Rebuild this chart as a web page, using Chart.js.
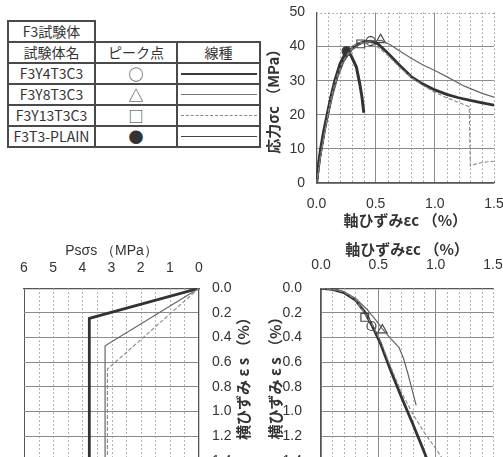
<!DOCTYPE html>
<html>
<head>
<meta charset="utf-8">
<script src="https://cdn.jsdelivr.net/npm/chart.js@4"></script>
<style>
  body { margin: 0; width: 503px; height: 457px; overflow: hidden; background: #fff; position: relative;
         font-family: 'Noto Sans CJK JP', sans-serif; color: #333; }
  canvas { position: absolute; }
  #tbl { position: absolute; left: 7px; top: 20px; border-collapse: collapse; table-layout: fixed; font-size: 14px; }
  #tbl td { border: 2px solid #4a4a4a; height: 19px; padding: 0; text-align: center; line-height: 17px; white-space: nowrap; }
  #tbl td.none { border: none; }
  .ls { width: 76px; margin: 0 auto; height: 0; }
  #yl { position: absolute; left: 163px; top: 365px; width: 160px; text-align: center; transform: rotate(-90deg);
        font-weight: bold; font-size: 15px; line-height: 20px; z-index: 2; }
</style>
</head>
<body>
<table id="tbl">
  <colgroup><col style="width:87px"><col style="width:82px"><col style="width:83px"></colgroup>
  <tbody id="tb"></tbody>
</table>
<canvas id="c1" width="241" height="232" style="left:262px;top:0"></canvas>
<canvas id="c2" width="240" height="240" style="left:0;top:240px"></canvas>
<canvas id="c3" width="241" height="240" style="left:262px;top:240px"></canvas>
<div id="yl">横ひずみ ε s （%）</div>
<script>
// series
const seriesNames = ['F3Y4T3C3', 'F3Y8T3C3', 'F3Y13T3C3', 'F3T3-PLAIN'];
const peakSymbols = ['○', '△', '□', '●'];

// axial strain εc (%) vs stress σc (MPa)
const ssY4 = [[0,0],[0.01,3],[0.025,7],[0.045,11],[0.07,16],[0.1,21],[0.13,26],[0.17,31],[0.22,35.5],[0.28,38.8],[0.34,40.6],[0.4,41.4],[0.46,41.6],[0.52,40.8],[0.6,38.2],[0.7,34.6],[0.8,31.2],[0.9,29],[1.0,27.3],[1.1,26],[1.2,25],[1.3,24.2],[1.4,23.5],[1.5,22.8]];
const ssY8 = [[0,0],[0.015,3],[0.03,7],[0.05,11],[0.075,16],[0.105,21],[0.14,26],[0.18,31],[0.23,35.5],[0.3,39],[0.38,41],[0.46,41.7],[0.55,41.8],[0.62,40.6],[0.7,38.8],[0.8,36.6],[0.9,34.6],[1.0,33],[1.1,31.2],[1.25,28.4],[1.4,26.3],[1.5,25.2]];
const ssY13 = [[0,0],[0.015,3],[0.03,7],[0.05,11],[0.075,16],[0.1,21],[0.13,26],[0.17,31],[0.22,35.5],[0.28,38.8],[0.33,40.6],[0.37,41.2],[0.45,41],[0.52,39.8],[0.6,37.5],[0.7,34],[0.8,31],[0.9,28.6],[1.0,26.6],[1.1,25],[1.2,23.6],[1.29,22.4],[1.3,5],[1.35,5.6],[1.4,6],[1.5,6.4]];
const ssPlain = [[0,0],[0.01,3],[0.02,6],[0.035,10],[0.06,15],[0.09,20],[0.12,25],[0.155,30],[0.2,35],[0.254,38.7],[0.29,37.5],[0.337,34],[0.366,29],[0.385,25],[0.4,20.6]];
const topPeakX = [0.458, 0.542, 0.374, 0.254];
const topPeakY = [41.6, 42.0, 40.8, 38.7];

// lateral stress Psσs (MPa) vs lateral strain εs (%)
const lsY4 = [[0,0],[3.76,0.244],[3.76,1.4]];
const lsY8 = [[0,0],[3.22,0.467],[3.22,1.4]];
const lsY13 = [[0,0],[3.14,0.656],[3.14,1.4]];

// axial strain εc (%) vs lateral strain εs (%)
const csY4 = [[0,0],[0.1,0.008],[0.2,0.035],[0.3,0.095],[0.38,0.19],[0.448,0.307],[0.52,0.45],[0.6,0.65],[0.7,0.88],[0.8,1.1],[0.9,1.33],[0.95,1.45]];
const csY8 = [[0,0],[0.1,0.006],[0.2,0.028],[0.3,0.08],[0.4,0.17],[0.48,0.26],[0.532,0.325],[0.6,0.4],[0.68,0.48],[0.72,0.57],[0.76,0.7],[0.83,0.95]];
const csY13 = [[0,0],[0.1,0.008],[0.2,0.03],[0.3,0.09],[0.38,0.2],[0.45,0.3],[0.52,0.43],[0.6,0.62],[0.7,0.84],[0.8,1.02],[0.9,1.17],[1.0,1.3],[1.05,1.37],[1.1,1.45]];
const botPeakX = [0.44, 0.535, 0.382];
const botPeakY = [0.306, 0.339, 0.236];

const lineStyles = [
  { borderColor: '#333', borderWidth: 2.8 },
  { borderColor: '#666', borderWidth: 1.2 },
  { borderColor: '#888', borderWidth: 1.1, borderDash: [4, 2] },
  { borderColor: '#333', borderWidth: 3 }
];
const markStyles = [
  { pointStyle: 'circle', pointBackgroundColor: '#fff', pointRadius: 4.5 },
  { pointStyle: 'triangle', pointBackgroundColor: '#fff', pointRadius: 5.5 },
  { pointStyle: 'rect', pointBackgroundColor: '#fff', pointRadius: 5.5 },
  { pointStyle: 'circle', pointBackgroundColor: '#333', pointRadius: 4.5 }
];
const legendLines = ['2px solid #3a3a3a', '1px solid #777', '1px dashed #888', '1.5px solid #444'];

// legend table
const tb = document.getElementById('tb');
let html = '<tr style="height:21px"><td>F3試験体</td><td class="none"></td><td class="none"></td></tr>';
html += '<tr style="height:21px"><td>試験体名</td><td>ピーク点</td><td>線種</td></tr>';
seriesNames.forEach(function (n, i) {
  html += '<tr style="height:21px"><td>' + n + '</td><td style="font-size:15px">' + peakSymbols[i] +
    '</td><td><div class="ls" style="border-top:' + legendLines[i] + '"></div></td></tr>';
});
tb.innerHTML = html;

const pts = a => a.map(p => ({ x: p[0], y: p[1] }));
const steps = (from, to, step, skip) => {
  const out = [];
  for (let i = 0; from + i * step <= to + 1e-9; i++) {
    const v = +(from + i * step).toFixed(4);
    if (!skip || Math.abs(v / skip - Math.round(v / skip)) > 1e-6) out.push(v);
  }
  return out;
};

Chart.defaults.font.family = "'Liberation Sans', Arial, sans-serif";
Chart.defaults.font.size = 14;
Chart.defaults.color = '#333';
Chart.defaults.animation = false;

const titleFont = { family: "'Noto Sans CJK JP', sans-serif", weight: 'bold', size: 15 };
const axisBorder = { color: '#555', width: 1.3 };

// dotted minor grid lines
const minorGrid = {
  id: 'minorGrid',
  beforeDatasetsDraw(chart, args, opts) {
    const { ctx, chartArea: a, scales } = chart;
    ctx.save();
    ctx.strokeStyle = '#9a9a9a';
    ctx.lineWidth = 1;
    ctx.setLineDash([1.5, 2.5]);
    (opts.x || []).forEach(v => {
      const px = Math.round(scales.x.getPixelForValue(v)) + 0.5;
      ctx.beginPath(); ctx.moveTo(px, a.top); ctx.lineTo(px, a.bottom); ctx.stroke();
    });
    (opts.y || []).forEach(v => {
      const py = Math.round(scales.y.getPixelForValue(v)) + 0.5;
      ctx.beginPath(); ctx.moveTo(a.left, py); ctx.lineTo(a.right, py); ctx.stroke();
    });
    ctx.restore();
  }
};

function curve(d, st) {
  return Object.assign({ data: pts(d), showLine: true, pointRadius: 0, fill: false, tension: 0 }, st);
}
function marks(xs, ys, n) {
  const out = [];
  for (let i = 0; i < n; i++) {
    out.push(Object.assign({ data: [{ x: xs[i], y: ys[i] }], showLine: false, borderColor: '#444',
      pointBorderWidth: 1.2 }, markStyles[i]));
  }
  return out;
}
const noPlug = { legend: { display: false }, tooltip: { enabled: false } };
// let the layout padding alone decide the plot box
const fixH = h => s => { s.height = h; s.paddingLeft = 0; s.paddingRight = 0; };
const fixW = w => s => { s.width = w; s.paddingTop = 0; s.paddingBottom = 0; };

// top right: stress - axial strain
new Chart(document.getElementById('c1'), {
  type: 'scatter',
  data: {
    datasets: [
      curve(ssY13, lineStyles[2]), curve(ssY8, lineStyles[1]),
      curve(ssY4, lineStyles[0]), curve(ssPlain, lineStyles[3])
    ].concat(marks(topPeakX, topPeakY, 4))
  },
  options: {
    responsive: false,
    layout: { padding: { top: 12.5, right: 9, left: 0, bottom: 0 } },
    scales: {
      x: {
        min: 0, max: 1.5,
        ticks: { stepSize: 0.5, padding: 12.6, callback: v => v.toFixed(1) },
        grid: { color: c => c.tick && c.tick.value === 1.5 ? 'transparent' : '#8c8c8c', drawTicks: false },
        border: axisBorder,
        title: { display: true, text: '軸ひずみεc （%）', font: titleFont, color: '#333', padding: { top: 0, bottom: 3 } },
        afterFit: fixH(49)
      },
      y: {
        min: 0, max: 50,
        ticks: { stepSize: 10, padding: 11.5 },
        grid: { color: c => c.tick && c.tick.value === 50 ? 'transparent' : '#8c8c8c', drawTicks: false },
        border: axisBorder,
        title: { display: true, text: '応力σc （MPa）', font: titleFont, color: '#333', padding: { top: 2, bottom: 0 } },
        afterFit: fixW(54.5)
      }
    },
    plugins: Object.assign({ minorGrid: { x: steps(0.1, 1.5, 0.1, 0.5).concat([1.5]), y: [50] } }, noPlug)
  },
  plugins: [minorGrid]
});

// bottom left: lateral stress - lateral strain
new Chart(document.getElementById('c2'), {
  type: 'scatter',
  data: {
    datasets: [curve(lsY13, lineStyles[2]), curve(lsY8, lineStyles[1]), curve(lsY4, lineStyles[0])]
  },
  options: {
    responsive: false,
    layout: { padding: { top: 0, right: 0, left: 24, bottom: 19.3 } },
    scales: {
      x: {
        position: 'top', reverse: true, min: 0, max: 6,
        ticks: { stepSize: 1, padding: 12 },
        grid: { color: c => c.tick && c.tick.value === 6 ? '#555' : 'transparent', drawTicks: false },
        border: axisBorder,
        title: { display: true, text: 'Psσs （MPa）', color: '#333', font: { size: 14 }, padding: { top: 3, bottom: 0 } },
        afterFit: fixH(48.3)
      },
      y: {
        position: 'right', reverse: true, min: 0, max: 1.4,
        ticks: { stepSize: 0.2, padding: 13, callback: v => v.toFixed(1) },
        grid: { color: '#8c8c8c', drawTicks: false },
        border: axisBorder,
        afterFit: fixW(41)
      }
    },
    plugins: Object.assign({ minorGrid: { x: steps(0.5, 5.5, 0.5) } }, noPlug)
  },
  plugins: [minorGrid]
});

// bottom right: lateral strain - axial strain
new Chart(document.getElementById('c3'), {
  type: 'scatter',
  data: {
    datasets: [curve(csY13, lineStyles[2]), curve(csY8, lineStyles[1]), curve(csY4, lineStyles[0])]
      .concat(marks(botPeakX, botPeakY, 3))
  },
  options: {
    responsive: false,
    layout: { padding: { top: 0, right: 10, left: 0, bottom: 19.3 } },
    scales: {
      x: {
        position: 'top', min: 0, max: 1.5,
        ticks: { stepSize: 0.5, padding: 15, callback: v => v.toFixed(1) },
        grid: { color: c => c.tick && c.tick.value === 1.5 ? 'transparent' : '#8c8c8c', drawTicks: false },
        border: axisBorder,
        title: { display: true, text: '軸ひずみεc （%）', font: titleFont, color: '#333', padding: { top: 0, bottom: 0 } },
        afterFit: fixH(48.3)
      },
      y: {
        reverse: true, min: 0, max: 1.4,
        ticks: { stepSize: 0.2, padding: 19, callback: v => v.toFixed(1) },
        grid: { color: '#8c8c8c', drawTicks: false },
        border: axisBorder,
        title: { display: true, text: '横ひずみ ε s （%）', font: titleFont, color: '#333', padding: { top: 4, bottom: 0 } },
        afterFit: fixW(59)
      }
    },
    plugins: Object.assign({ minorGrid: { x: steps(0.1, 1.5, 0.1, 0.5).concat([1.5]) } }, noPlug)
  },
  plugins: [minorGrid]
});
</script>
</body>
</html>
